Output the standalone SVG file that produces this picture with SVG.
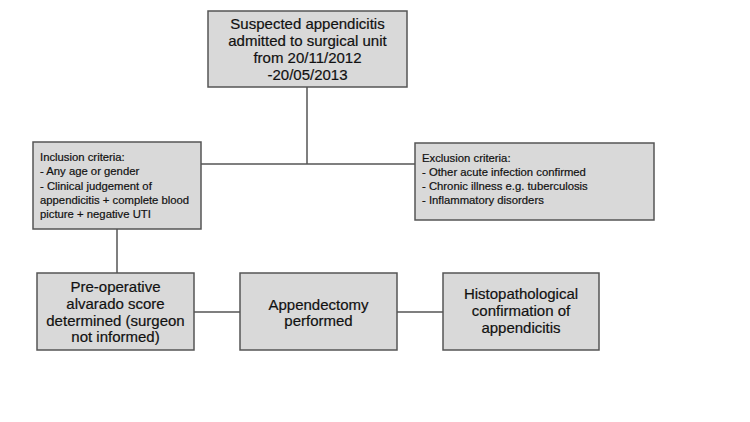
<svg xmlns="http://www.w3.org/2000/svg" width="750" height="422" viewBox="0 0 750 422">
<style>
.box{fill:#d9d9d9;stroke:#555;stroke-width:1.5}
.t{font-family:"Liberation Sans",Arial,sans-serif;font-size:15px;fill:#111;stroke:#111;stroke-width:0.2;text-anchor:middle}
.s{font-family:"Liberation Sans",Arial,sans-serif;font-size:11.3px;fill:#111;stroke:#111;stroke-width:0.2}
.c{fill:none;stroke:#555;stroke-width:1.5}
</style>
<rect width="750" height="422" fill="#fff"/>
<g id="connectors">
<path class="c" d="M307 87V164M201 164H415"/>
<path class="c" d="M117 229V273"/>
<path class="c" d="M194 312H240M397 312H443"/>
</g>
<g id="top">
<rect class="box" x="208" y="11" width="199" height="76"/>
<text class="t"><tspan x="307.5" y="29">Suspected appendicitis</tspan><tspan x="307.5" y="46">admitted to surgical unit</tspan><tspan x="307.5" y="63">from 20/11/2012</tspan><tspan x="307.5" y="80">-20/05/2013</tspan></text>
</g>
<g id="inclusion">
<rect class="box" x="33" y="142" width="168" height="87"/>
<text class="s"><tspan x="40" y="161">Inclusion criteria:</tspan><tspan x="40" y="175">- Any age or gender</tspan><tspan x="40" y="189.5">- Clinical judgement of</tspan><tspan x="40" y="204">appendicitis + complete blood</tspan><tspan x="40" y="218">picture + negative UTI</tspan></text>
</g>
<g id="exclusion">
<rect class="box" x="415" y="143" width="239" height="77"/>
<text class="s"><tspan x="422" y="162">Exclusion criteria:</tspan><tspan x="422" y="176">- Other acute infection confirmed</tspan><tspan x="422" y="190">- Chronic illness e.g. tuberculosis</tspan><tspan x="422" y="204">- Inflammatory disorders</tspan></text>
</g>
<g id="alvarado">
<rect class="box" x="37" y="273" width="157" height="77"/>
<text class="t"><tspan x="115.5" y="292">Pre-operative</tspan><tspan x="115.5" y="309">alvarado score</tspan><tspan x="115.5" y="325.5">determined (surgeon</tspan><tspan x="115.5" y="342">not informed)</tspan></text>
</g>
<g id="appendectomy">
<rect class="box" x="240" y="273" width="157" height="77"/>
<text class="t"><tspan x="318.5" y="310">Appendectomy</tspan><tspan x="318.5" y="326">performed</tspan></text>
</g>
<g id="histo">
<rect class="box" x="443" y="273" width="156" height="77"/>
<text class="t"><tspan x="521" y="299">Histopathological</tspan><tspan x="521" y="316">confirmation of</tspan><tspan x="521" y="333">appendicitis</tspan></text>
</g>
</svg>
